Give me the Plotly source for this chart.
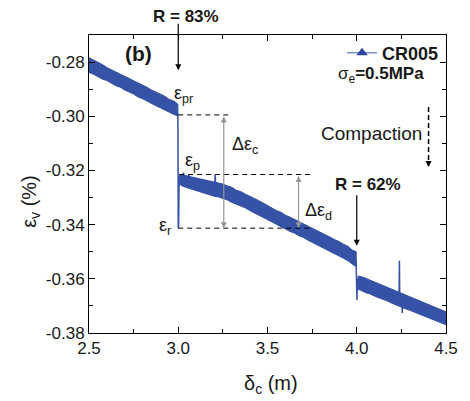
import plotly.graph_objects as go

# ---------------- data ----------------
# segment 1 : before first reload (R = 83 %)
seg1_x = [2.5, 2.525, 2.55, 2.575, 2.6, 2.625, 2.65, 2.675, 2.7, 2.725, 2.75, 2.775,
          2.8, 2.825, 2.85, 2.875, 2.9, 2.925, 2.95, 2.975, 2.998]
seg1_upper = [-0.2784, -0.2792, -0.2801, -0.2809, -0.2820, -0.2828, -0.2835, -0.2844,
              -0.2852, -0.2860, -0.2869, -0.2877, -0.2886, -0.2893, -0.2903, -0.2910,
              -0.2920, -0.2926, -0.2938, -0.2944, -0.2955]
seg1_lower = [-0.2838, -0.2845, -0.2853, -0.2863, -0.2868, -0.2878, -0.2887, -0.2893,
              -0.2903, -0.2911, -0.2918, -0.2929, -0.2935, -0.2944, -0.2954, -0.2961,
              -0.2969, -0.2978, -0.2984, -0.2993, -0.2999]

# segment 2 : between the two reloads
seg2_x = [3.005, 3.025, 3.05, 3.075, 3.1, 3.125, 3.15, 3.175, 3.2, 3.225, 3.25, 3.275,
          3.3, 3.325, 3.35, 3.375, 3.4, 3.425, 3.45, 3.475, 3.5, 3.525, 3.55, 3.575,
          3.6, 3.625, 3.65, 3.675, 3.7, 3.725, 3.75, 3.775, 3.8, 3.825, 3.85, 3.875,
          3.9, 3.925, 3.95, 3.975, 3.997]
seg2_upper = [-0.3215, -0.3216, -0.3220, -0.3224, -0.3228, -0.3231, -0.3236, -0.3240,
              -0.3243, -0.3248, -0.3250, -0.3257, -0.3262, -0.3273, -0.3278, -0.3287,
              -0.3294, -0.3304, -0.3311, -0.3320, -0.3330, -0.3337, -0.3348, -0.3354,
              -0.3365, -0.3372, -0.3380, -0.3388, -0.3396, -0.3403, -0.3413, -0.3420,
              -0.3430, -0.3438, -0.3446, -0.3455, -0.3462, -0.3472, -0.3480, -0.3494,
              -0.3500]
seg2_lower = [-0.3250, -0.3258, -0.3264, -0.3270, -0.3276, -0.3281, -0.3286, -0.3290,
              -0.3295, -0.3298, -0.3303, -0.3309, -0.3318, -0.3324, -0.3332, -0.3338,
              -0.3348, -0.3355, -0.3364, -0.3373, -0.3382, -0.3390, -0.3399, -0.3409,
              -0.3416, -0.3425, -0.3431, -0.3441, -0.3447, -0.3457, -0.3465, -0.3474,
              -0.3481, -0.3491, -0.3499, -0.3508, -0.3516, -0.3524, -0.3533, -0.3545,
              -0.3556]

# segment 3 : after second reload (R = 62 %)
seg3_x = [4.005, 4.025, 4.05, 4.075, 4.1, 4.125, 4.15, 4.175, 4.2, 4.225, 4.25, 4.275,
          4.3, 4.325, 4.35, 4.375, 4.4, 4.425, 4.45, 4.475, 4.5]
seg3_upper = [-0.3590, -0.3592, -0.3598, -0.3605, -0.3611, -0.3617, -0.3624, -0.3631,
              -0.3638, -0.3645, -0.3652, -0.3659, -0.3666, -0.3672, -0.3680, -0.3686,
              -0.3693, -0.3700, -0.3707, -0.3714, -0.3722]
seg3_lower = [-0.3638, -0.3643, -0.3651, -0.3656, -0.3664, -0.3670, -0.3677, -0.3683,
              -0.3691, -0.3696, -0.3705, -0.3711, -0.3717, -0.3724, -0.3731, -0.3737,
              -0.3744, -0.3750, -0.3757, -0.3763, -0.3770]

# thin transients (drops at reloads and isolated spikes)
jump1_x = [2.998, 3.0, 3.002, 3.005]
jump1_y = [-0.2990, -0.3413, -0.3405, -0.3222]
jump2_x = [3.996, 3.998, 4.0, 4.001, 4.004]
jump2_y = [-0.3528, -0.3589, -0.3540, -0.3678, -0.3598]
spike1_x = [3.028, 3.030, 3.032, 3.058, 3.060, 3.062, 3.205, 3.207, 3.209]
spike1_y = [-0.3222, -0.3208, -0.3225, -0.3228, -0.3214, -0.3232, -0.3250, -0.3215, -0.3255]
spike2_x = [4.237, 4.239, 4.241, 4.253, 4.255, 4.257]
spike2_y = [-0.3665, -0.3533, -0.3690, -0.3690, -0.3726, -0.3695]

# characteristic strains
eps_pr = -0.2995
eps_p = -0.3215
eps_r = -0.3413
reload_x = [3.0, 4.0]

# axes
x_ticks = [2.5, 3.0, 3.5, 4.0, 4.5]
x_tick_labels = ["2.5", "3.0", "3.5", "4.0", "4.5"]
y_ticks = [-0.38, -0.36, -0.34, -0.32, -0.30, -0.28]
y_tick_labels = ["-0.38", "-0.36", "-0.34", "-0.32", "-0.30", "-0.28"]

# ---------------- figure ----------------
BLUE = "rgb(54,82,166)"
FONT = "Liberation Sans, Arial, Helvetica, sans-serif"
W, H = 470, 401
L, R, T, B = 89, 13, 35, 68


def px(xp):
    return (xp - L) / (W - L - R)


def py(yp):
    return (H - B - yp) / (H - T - B)


fig = go.Figure()

for xs, up, lo in [(seg1_x, seg1_upper, seg1_lower),
                   (seg2_x, seg2_upper, seg2_lower),
                   (seg3_x, seg3_upper, seg3_lower)]:
    fig.add_trace(go.Scatter(x=xs + xs[::-1], y=up + lo[::-1], mode="lines",
                             fill="toself", fillcolor=BLUE,
                             line=dict(color=BLUE, width=1),
                             showlegend=False, hoverinfo="skip"))

for xs, ys in [(jump1_x, jump1_y), (jump2_x, jump2_y),
               (spike1_x, spike1_y), (spike2_x, spike2_y)]:
    fig.add_trace(go.Scatter(x=xs, y=ys, mode="lines",
                             line=dict(color=BLUE, width=1.5),
                             showlegend=False, hoverinfo="skip"))

# legend-only entry
fig.add_trace(go.Scatter(x=[None], y=[None], mode="lines+markers",
                         name="<b>CR005</b>",
                         line=dict(color="rgb(125,146,210)", width=1.5),
                         marker=dict(symbol="triangle-up", size=10, color="rgb(44,70,160)")))

# dashed reference lines
dash = dict(color="black", width=1, dash="5px,4px")
fig.add_shape(type="line", x0=reload_x[0], x1=3.283, y0=eps_pr, y1=eps_pr, line=dash)
fig.add_shape(type="line", x0=reload_x[0] + 0.005, x1=3.74, y0=eps_p, y1=eps_p, line=dash)
fig.add_shape(type="line", x0=reload_x[0], x1=3.745, y0=eps_r, y1=eps_r, line=dash)

GRAY = "rgb(150,150,150)"
# Δε_c and Δε_d double arrows
fig.add_annotation(x=3.255, y=eps_r, ax=3.255, ay=eps_pr, xref="x", yref="y",
                   axref="x", ayref="y", text="", showarrow=True, arrowhead=2,
                   startarrowhead=2, arrowside="end+start", arrowwidth=1.2,
                   arrowsize=1, startarrowsize=1, arrowcolor=GRAY)
fig.add_annotation(x=3.674, y=eps_r, ax=3.674, ay=eps_p, xref="x", yref="y",
                   axref="x", ayref="y", text="", showarrow=True, arrowhead=2,
                   startarrowhead=2, arrowside="end+start", arrowwidth=1.2,
                   arrowsize=1, startarrowsize=1, arrowcolor=GRAY)

# reload arrows
fig.add_annotation(x=reload_x[0], y=-0.2830, ax=0, ay=-48, text="", showarrow=True,
                   arrowhead=2, arrowwidth=1.2, arrowsize=1, arrowcolor="black")
fig.add_annotation(x=reload_x[1], y=-0.3478, ax=0, ay=-52, text="", showarrow=True,
                   arrowhead=2, arrowwidth=1.2, arrowsize=1, arrowcolor="black")

# compaction dashed arrow
fig.add_shape(type="line", xref="paper", yref="paper", x0=px(439), x1=px(439),
              y0=py(107), y1=py(161), line=dict(color="black", width=1.5, dash="5px,3px"))
fig.add_annotation(xref="paper", yref="paper", x=px(439), y=py(167), ax=0, ay=-7,
                   text="", showarrow=True, arrowhead=2, arrowwidth=1.2, arrowsize=1,
                   arrowcolor="black")

TXT = "rgb(25,25,25)"


def label(xp, yp, text, size=18, anchor="left"):
    fig.add_annotation(xref="paper", yref="paper", x=px(xp), y=py(yp), text=text,
                       showarrow=False, xanchor=anchor, yanchor="middle",
                       font=dict(family=FONT, size=size, color=TXT))


label(140, 53, "<b>(b)</b>", size=21, anchor="center")
label(189, 17, "<b>R = 83%</b>", size=17, anchor="center")
label(377, 184, "<b>R = 62%</b>", size=17, anchor="center")
label(380, 133, "Compaction", size=19, anchor="center")
label(175, 94, "ε<sub>pr</sub>", size=18)
label(186, 161, "ε<sub>p</sub>", size=18)
label(159, 226, "ε<sub>r</sub>", size=18)
label(234, 145, "Δε<sub>c</sub>", size=18)
label(310, 211, "Δε<sub>d</sub>", size=18)
label(344, 75, "σ<sub>e</sub><b>=0.5MPa</b>", size=17)

# axis titles
fig.add_annotation(xref="paper", yref="paper", x=px(28), y=py(201),
                   text="ε<sub>v</sub> (%)", textangle=-90, showarrow=False,
                   xanchor="center", yanchor="middle",
                   font=dict(family=FONT, size=20, color=TXT))
fig.add_annotation(xref="paper", yref="paper", x=px(277), y=py(384),
                   text="δ<sub>c</sub> (m)", showarrow=False,
                   xanchor="center", yanchor="middle",
                   font=dict(family=FONT, size=20, color=TXT))

axis_common = dict(showline=True, linecolor="black", linewidth=1, mirror="ticks",
                   ticks="inside", ticklen=6, tickwidth=1, tickcolor="black",
                   showgrid=False, zeroline=False,
                   tickfont=dict(family=FONT, size=17, color=TXT))

fig.update_xaxes(range=[2.5, 4.5], tickvals=x_ticks, ticktext=x_tick_labels,
                 minor=dict(ticks="inside", ticklen=4, tickcolor="black", dtick=0.25,
                            tick0=2.5, showgrid=False),
                 **axis_common)
fig.update_yaxes(range=[-0.38, -0.27], tickvals=y_ticks, ticktext=y_tick_labels,
                 minor=dict(ticks="inside", ticklen=4, tickcolor="black", dtick=0.01,
                            tick0=-0.38, showgrid=False),
                 **axis_common)

fig.update_layout(width=W, height=H, margin=dict(l=L, r=R, t=T, b=B),
                  plot_bgcolor="white", paper_bgcolor="white",
                  font=dict(family=FONT, color=TXT),
                  showlegend=True,
                  legend=dict(x=px(455), y=py(53), xanchor="right", yanchor="middle",
                              bgcolor="rgba(0,0,0,0)", borderwidth=0,
                              font=dict(family=FONT, size=18, color=TXT)))

fig.write_html("out.html", config={"displayModeBar": False},
               post_script="document.body.style.margin='0';document.body.style.padding='0';")
